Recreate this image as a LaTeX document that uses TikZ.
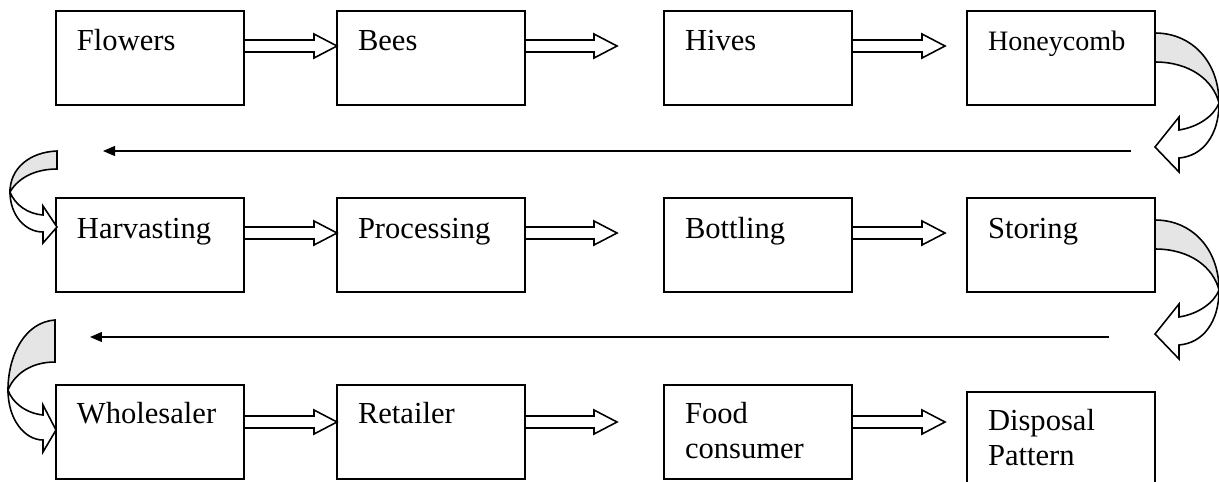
\documentclass[tikz,border=0pt]{standalone}
\usepackage{fontspec}
\setmainfont{Liberation Serif}
\usetikzlibrary{calc,arrows.meta}
\tikzset{
  stagebox/.style={draw, line width=1pt, anchor=north west, inner xsep=0.42cm,
    inner ysep=0pt, outer sep=0pt, text width=2.92cm, align=left,
    text height=0.8cm, text depth=1.08cm, font=\fontsize{17.4}{20.4}\selectfont},
  lowrow/.style={text height=0.76cm, text depth=1.12cm},
  hollow/.style={draw, line width=0.9pt, line join=miter},
  backline/.style={line width=0.7pt, -{Triangle[length=0.24cm,width=0.2cm]}},
  ribbon/.style={draw, line width=0.9pt, line join=miter},
  rturn/.pic={
    \path[ribbon, fill=gray!20] (1155,33) .. controls (1192,33) and (1219,62) .. (1219,103)
      .. controls (1213,80) and (1190,62) .. (1155,62) -- cycle;
    \path[ribbon, fill=white] (1219,103) .. controls (1219,135) and (1203,156) .. (1179,158)
      -- (1179,172) -- (1155,147) -- (1179,117) -- (1179,130)
      .. controls (1198,127) and (1214,116) .. (1219,103) -- cycle;
  }
}
\newcommand{\blockarrow}[3][35]{%
  \draw[hollow] let \p1=($(#2.north east)+(0,#1)$), \p2=(#3) in
    (\x1,\y1+0.12cm) -- (\x2-0.46cm,\y1+0.12cm) -- (\x2-0.46cm,\y1+0.24cm)
    -- (\x2,\y1) -- (\x2-0.46cm,\y1-0.24cm) -- (\x2-0.46cm,\y1-0.12cm)
    -- (\x1,\y1-0.12cm);
}
\begin{document}
\begin{tikzpicture}[x=0.02cm, y=-0.02cm]
  \useasboundingbox (0,0) rectangle (1219,481);
  \node[stagebox] (flowers) at (56,11) {Flowers};
  \node[stagebox] (bees) at (337,11) {Bees};
  \node[stagebox] (hives) at (664,11) {Hives};
  \node[stagebox, font=\fontsize{16}{19}\selectfont] (honeycomb) at (967,11) {Honeycomb};
  \node[stagebox] (harvesting) at (56,198) {Harvasting};
  \node[stagebox] (processing) at (337,198) {Processing};
  \node[stagebox] (bottling) at (664,198) {Bottling};
  \node[stagebox] (storing) at (967,198) {Storing};
  \node[stagebox, lowrow] (wholesaler) at (56,385) {Wholesaler};
  \node[stagebox, lowrow] (retailer) at (337,385) {Retailer};
  \node[stagebox, lowrow] (consumer) at (664,385) {Food\\consumer};
  \node[stagebox, lowrow] (disposal) at (967,392) {Disposal\\Pattern};
  \coordinate (backaR) at (1131,151);
  \coordinate (backaL) at (103,151);
  \coordinate (backbR) at (1109,337);
  \coordinate (backbL) at (90,337);
  \begin{scope}
    \blockarrow{flowers}{bees.west}
    \blockarrow{bees}{$(hives.west)+(-47,0)$}
    \blockarrow{hives}{$(honeycomb.west)+(-22,0)$}
    \blockarrow{harvesting}{processing.west}
    \blockarrow{processing}{$(bottling.west)+(-47,0)$}
    \blockarrow{bottling}{$(storing.west)+(-22,0)$}
    \blockarrow[37]{wholesaler}{retailer.west}
    \blockarrow[37]{retailer}{$(consumer.west)+(-47,0)$}
    \blockarrow[37]{consumer}{$(disposal.west)+(-22,0)$}
    \draw[backline] (backaR) -- (backaL);
    \draw[backline] (backbR) -- (backbL);
  \end{scope}
  \pic at (0,0) {rturn};
  \pic at (0,187) {rturn};
  \path[ribbon, fill=gray!20] (57,151) .. controls (30,152) and (10,168) .. (10,192)
    .. controls (18,178) and (35,169) .. (57,169) -- cycle;
  \path[ribbon, fill=white] (10,192) .. controls (10,215) and (25,232) .. (43,232)
    -- (43,243) -- (57,227) -- (43,206) -- (43,215)
    .. controls (28,214) and (15,205) .. (10,192) -- cycle;
  \path[ribbon, fill=gray!20] (55,320) .. controls (25,322) and (8,355) .. (8,390)
    .. controls (14,375) and (30,362) .. (55,362) -- cycle;
  \path[ribbon, fill=white] (8,390) .. controls (8,420) and (25,440) .. (43,440)
    -- (43,452) -- (56,430) -- (43,405) -- (43,415)
    .. controls (25,413) and (12,402) .. (8,390) -- cycle;
\end{tikzpicture}
\end{document}
